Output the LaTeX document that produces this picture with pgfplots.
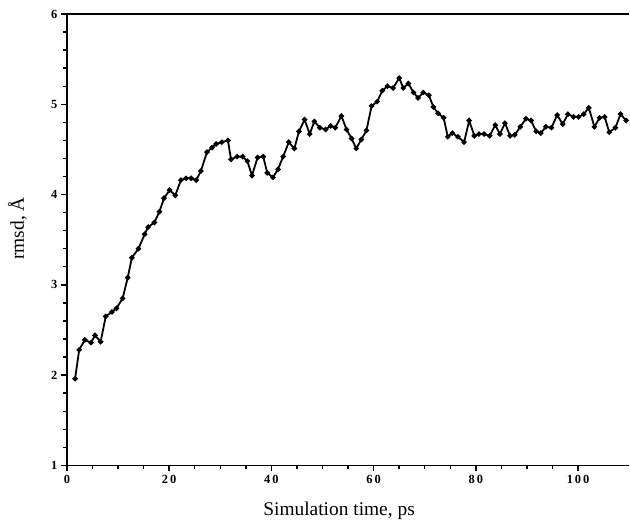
\documentclass[border=0pt]{standalone}
\usepackage{pgfplots}
\pgfplotsset{compat=1.18}
\usepackage{fontspec}
\setmainfont{Liberation Serif}
\newfontfamily\tickfont[LetterSpace=15]{Liberation Serif}
\begin{document}
\begin{tikzpicture}
\begin{axis}[
  scale only axis, width=563bp, height=452bp,
  xmin=0, xmax=110, ymin=1, ymax=6,
  axis lines=left, axis line style={-, line width=1.6bp},
  xtick={0,20,40,60,80,100}, ytick={1,2,3,4,5,6},
  minor x tick num=3, minor y tick num=4,
  tick align=outside, major tick length=6bp, minor tick length=3.5bp,
  tick style={line width=1.4bp, black},
  /pgf/number format/assume math mode=true,
  ticklabel style={font=\tickfont\fontsize{12.5}{14}\selectfont\bfseries},
  xlabel={Simulation time, ps}, ylabel={rmsd, Å},
  label style={font=\fontsize{19.5}{22}\selectfont},
  xlabel style={at={(axis description cs:0.484,-0.100)}, anchor=center},
  ylabel style={at={(axis description cs:-0.088,0.525)}, anchor=center},
  clip=false,
]
\draw[line width=1.6bp] (rel axis cs:0,1) -- (rel axis cs:1,1);
\addplot[black, line width=1.8bp, mark=*, mark size=1.7bp] coordinates {
(1.6,1.96) (2.4,2.28) (3.5,2.39) (4.7,2.36) (5.5,2.44) (6.6,2.37) (7.6,2.65) (8.8,2.70)
(9.7,2.74) (10.9,2.85) (11.9,3.08) (12.7,3.30) (14.0,3.40) (15.2,3.56) (15.9,3.64) (17.1,3.69)
(18.1,3.81) (19.0,3.96) (20.1,4.05) (21.2,3.99) (22.3,4.16) (23.3,4.18) (24.3,4.18) (25.3,4.16)
(26.2,4.26) (27.4,4.47) (28.4,4.52) (29.2,4.56) (30.3,4.58) (31.5,4.60) (32.1,4.39) (33.3,4.42)
(34.4,4.42) (35.3,4.37) (36.2,4.21) (37.3,4.41) (38.4,4.42) (39.2,4.24) (40.3,4.19) (41.3,4.28)
(42.3,4.42) (43.4,4.58) (44.5,4.51) (45.4,4.70) (46.5,4.83) (47.5,4.67) (48.4,4.81) (49.5,4.74)
(50.6,4.72) (51.6,4.76) (52.5,4.74) (53.7,4.87) (54.7,4.72) (55.7,4.62) (56.6,4.51) (57.6,4.61)
(58.6,4.71) (59.6,4.98) (60.7,5.03) (61.7,5.15) (62.7,5.20) (63.8,5.18) (65.0,5.29) (65.8,5.18)
(66.8,5.23) (67.8,5.13) (68.7,5.07) (69.7,5.13) (70.8,5.10) (71.7,4.97) (72.6,4.90) (73.7,4.85)
(74.5,4.64) (75.4,4.68) (76.5,4.64) (77.7,4.58) (78.7,4.82) (79.7,4.65) (80.6,4.67) (81.6,4.67)
(82.7,4.65) (83.8,4.77) (84.7,4.67) (85.7,4.79) (86.7,4.65) (87.6,4.66) (88.7,4.75) (89.8,4.84)
(90.8,4.82) (91.8,4.70) (92.7,4.68) (93.7,4.75) (94.8,4.74) (95.9,4.88) (97.0,4.78) (98.0,4.89)
(99.1,4.86) (100.1,4.86) (101.1,4.89) (102.1,4.96) (103.2,4.75) (104.2,4.85) (105.2,4.86) (106.1,4.69)
(107.3,4.74) (108.3,4.89) (109.4,4.82)
};
\end{axis}
\path (current axis.south west) ++(-67bp,-58bp);
\path (current axis.north east) ++(0,14bp);
\end{tikzpicture}
\end{document}
